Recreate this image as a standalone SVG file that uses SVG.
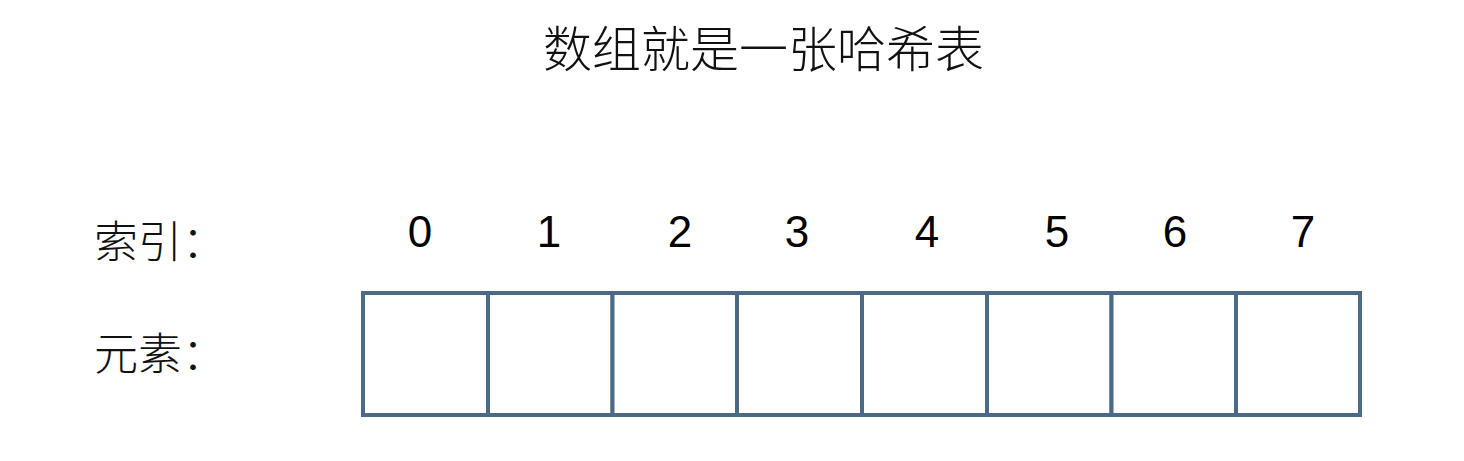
<svg xmlns="http://www.w3.org/2000/svg" width="1464" height="461" viewBox="0 0 1464 461">
<style>
.cjk{font-family:"Noto Sans CJK SC","Liberation Sans",sans-serif;fill:#111;font-weight:300}
.num{font-family:"Liberation Sans",Arial,sans-serif;font-size:44px;fill:#000;text-anchor:middle}
.cell{fill:#fff;stroke:#4c6985;stroke-width:4}
</style>
<rect width="1464" height="461" fill="#fff"/>
<g id="title"><text class="cjk" x="763.5" y="67" font-size="49" text-anchor="middle">数组就是一张哈希表</text></g>
<g id="label-index"><text class="cjk" x="94" y="258" font-size="44">索引：</text></g>
<g id="label-element"><text class="cjk" x="94" y="370" font-size="44">元素：</text></g>
<g id="indices">
<text class="num" x="420" y="247">0</text>
<text class="num" x="549" y="247">1</text>
<text class="num" x="680" y="247">2</text>
<text class="num" x="797" y="247">3</text>
<text class="num" x="927" y="247">4</text>
<text class="num" x="1057" y="247">5</text>
<text class="num" x="1175" y="247">6</text>
<text class="num" x="1303" y="247">7</text>
</g>
<g id="array">
<rect class="cell" x="363" y="293" width="125" height="122"/>
<rect class="cell" x="488" y="293" width="124.5" height="122"/>
<rect class="cell" x="612.5" y="293" width="124.5" height="122"/>
<rect class="cell" x="737" y="293" width="125" height="122"/>
<rect class="cell" x="862" y="293" width="125" height="122"/>
<rect class="cell" x="987" y="293" width="124.5" height="122"/>
<rect class="cell" x="1111.5" y="293" width="124.5" height="122"/>
<rect class="cell" x="1236" y="293" width="124" height="122"/>
</g>
<g id="connectors"/>
</svg>
